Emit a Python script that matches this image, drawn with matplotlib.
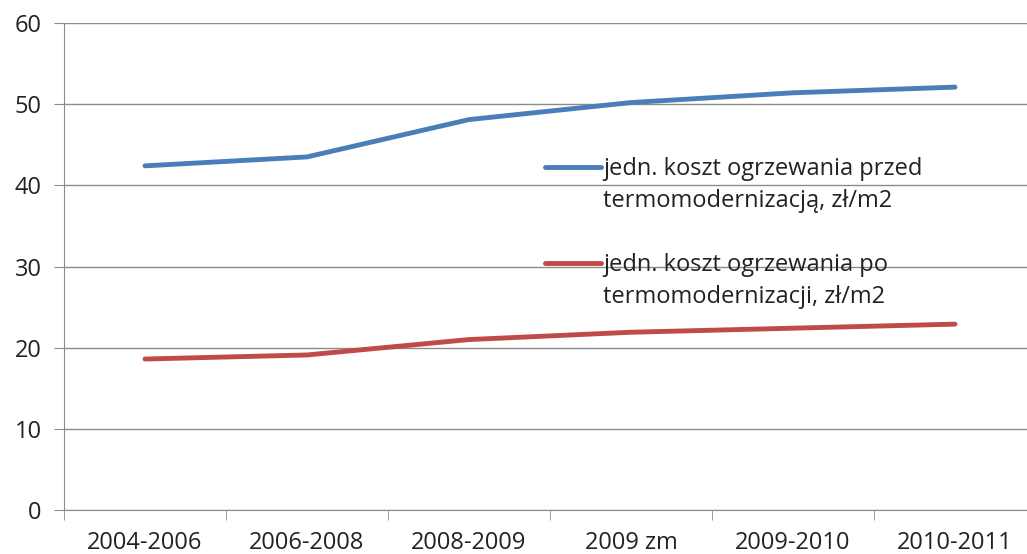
import matplotlib.pyplot as plt
import numpy as np
from matplotlib.legend_handler import HandlerLine2D

# data
periods = ['2004-2006', '2006-2008', '2008-2009', '2009 zm', '2009-2010', '2010-2011']
before = [42.4, 43.5, 48.1, 50.2, 51.4, 52.1]
after = [18.6, 19.1, 21.0, 21.9, 22.4, 22.9]
label_before = 'jedn. koszt ogrzewania przed\ntermomodernizacją, zł/m2'
label_after = 'jedn. koszt ogrzewania po\ntermomodernizacji, zł/m2'

plt.rcParams['font.family'] = ['Open Sans', 'DejaVu Sans']


class FirstLineHandler(HandlerLine2D):
    # put the legend line next to the first text line, as Excel does
    def create_artists(self, legend, orig_handle, xdescent, ydescent, width,
                       height, fontsize, trans):
        artists = super().create_artists(legend, orig_handle, xdescent, ydescent,
                                         width, height, fontsize, trans)
        for a in artists:
            a.set_ydata(np.asarray(a.get_ydata()) + 0.8 * fontsize)
        return artists


fig = plt.figure(figsize=(10.27, 5.54), dpi=100)
# axes run past the right edge of the picture, like the cropped original
ax = fig.add_axes([64 / 1027, 44 / 554, 972 / 1027, 487 / 554])

x = np.arange(len(periods))
ax.plot(x, before, color='#4A7EBB', linewidth=3.5, solid_capstyle='round', label=label_before)
ax.plot(x, after, color='#BE4B48', linewidth=3.5, solid_capstyle='round', label=label_after)

ax.set_xlim(-0.5, len(periods) - 0.5)
ax.set_ylim(0, 60)
ax.set_yticks(range(0, 61, 10))
ax.yaxis.grid(True, color='#8c8c8c', linewidth=1)
ax.set_axisbelow(True)

ax.set_xticks(x)
ax.set_xticklabels(periods)
ax.set_xticks(np.arange(-0.5, len(periods)), minor=True)
ax.tick_params(axis='x', which='major', length=0, pad=15, labelsize=17, colors='#222222')
ax.tick_params(axis='x', which='minor', length=7, color='#8c8c8c', direction='out')
ax.tick_params(axis='y', length=7, color='#8c8c8c', direction='out', labelsize=17,
               labelcolor='#222222', pad=9)

for s in ['top', 'right']:
    ax.spines[s].set_visible(False)
ax.spines['left'].set_color('#8c8c8c')
ax.spines['bottom'].set_color('#8c8c8c')

leg = ax.legend(loc='upper left', bbox_to_anchor=(524 / 1027, 1 - 136 / 554),
                bbox_transform=fig.transFigure, frameon=False, fontsize=17,
                handlelength=2.35, handletextpad=0.1, labelspacing=1.7,
                handler_map={plt.Line2D: FirstLineHandler()})
for line in leg.get_lines():
    line.set_linewidth(3.5)
for t in leg.get_texts():
    t.set_color('#222222')
    t.set_linespacing(1.43)

fig.savefig('out.png', dpi=100)
